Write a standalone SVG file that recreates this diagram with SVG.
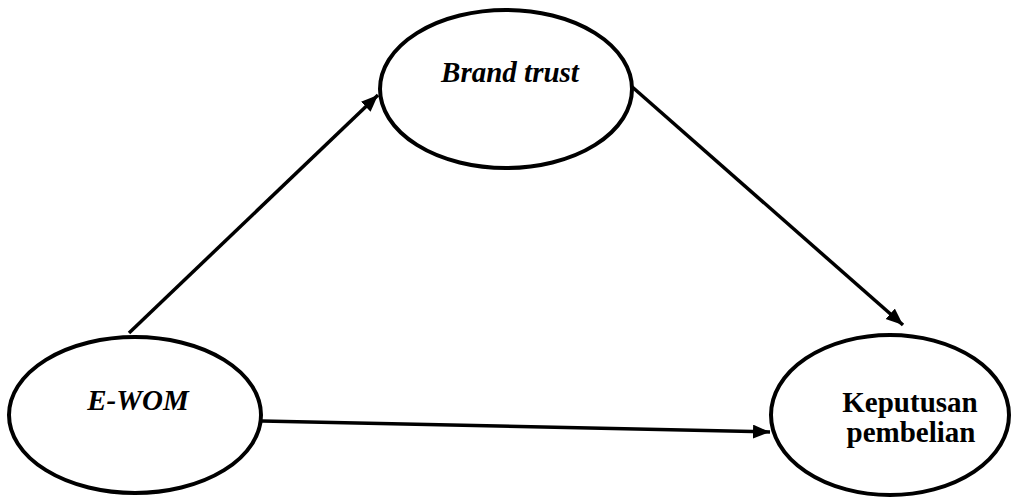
<svg xmlns="http://www.w3.org/2000/svg" width="1011" height="497" viewBox="0 0 1011 497">
<style>
.node{fill:#fff;stroke:#000;stroke-width:4}
.lbl{font-family:"Liberation Serif","Times New Roman",serif;font-weight:bold;font-size:29px;fill:#000;text-anchor:middle}
.it{font-style:italic}
.edge{stroke:#000;stroke-width:3.5;fill:none;marker-end:url(#ah)}
</style>
<defs>
<marker id="ah" markerUnits="userSpaceOnUse" markerWidth="20" markerHeight="16" refX="17" refY="7" orient="auto">
<path d="M0,0 L17,7 L0,14 Z" fill="#000"/>
</marker>
</defs>
<rect width="1011" height="497" fill="#fff"/>
<g id="connectors">
<line class="edge" x1="129" y1="333" x2="378" y2="95"/>
<line class="edge" x1="630" y1="85" x2="903" y2="325"/>
<line class="edge" x1="262" y1="421" x2="770" y2="432"/>
</g>
<g id="brand-trust">
<ellipse class="node" cx="506" cy="89" rx="126" ry="79"/>
<text class="lbl it" x="510" y="82">Brand trust</text>
</g>
<g id="ewom">
<ellipse class="node" cx="135" cy="415" rx="126" ry="78"/>
<text class="lbl it" x="138" y="410">E-WOM</text>
</g>
<g id="keputusan">
<ellipse class="node" cx="890" cy="415" rx="119" ry="80"/>
<text class="lbl" x="910" y="412">Keputusan</text>
<text class="lbl" x="911" y="442">pembelian</text>
</g>
</svg>
